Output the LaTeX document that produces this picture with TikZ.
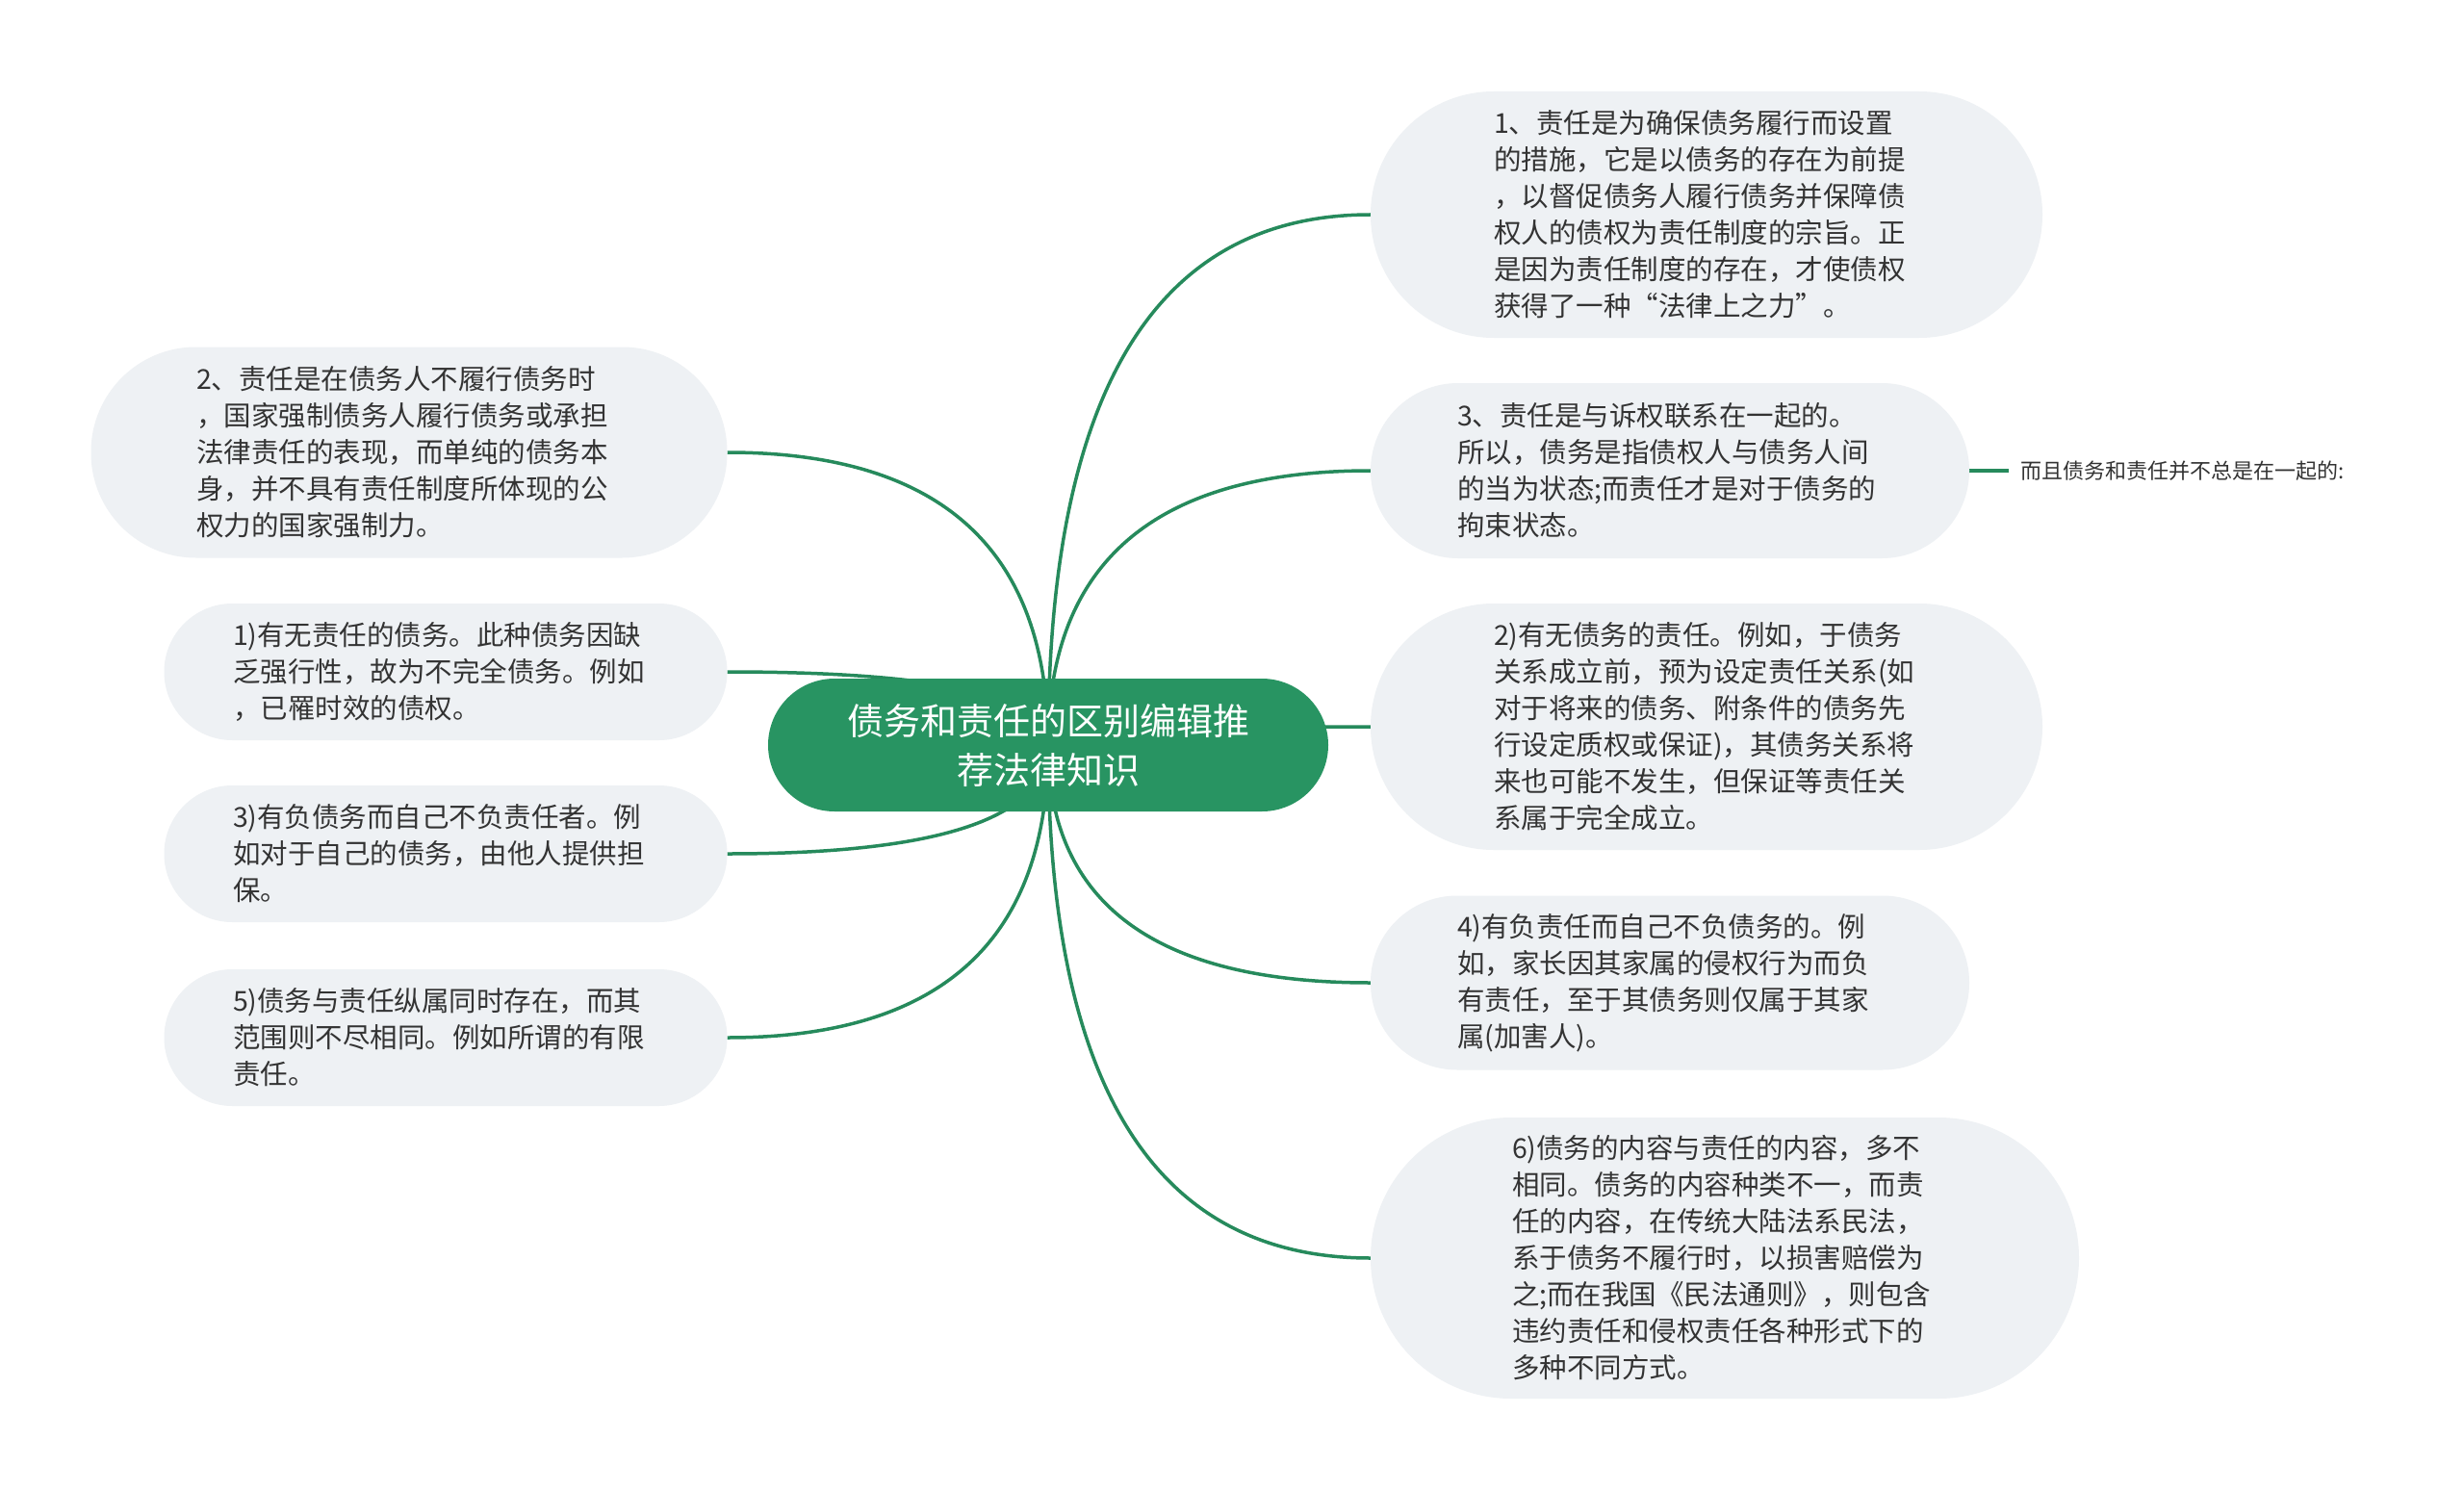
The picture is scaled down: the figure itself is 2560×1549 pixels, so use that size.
\documentclass[tikz,border=0pt]{standalone}
\usepackage{fontspec}
\setmainfont{Noto Sans CJK SC}
\usetikzlibrary{calc}
\definecolor{mmgreen}{RGB}{40,148,98}
\definecolor{mmline}{RGB}{38,138,92}
\definecolor{leaffill}{RGB}{238,241,244}
\definecolor{txt}{RGB}{51,51,51}
\pgfdeclarelayer{back}
\pgfdeclarelayer{lines}
\pgfsetlayers{back,lines,main}
\newcommand\rconn[2]{\draw[conn] (#1.center) .. controls ($(#1.center)!0.667!(#1.center|-#2.west)$) and ($(#2.west)!0.667!(#1.center|-#2.west)$) .. (#2.west);}
\newcommand\lconn[2]{\draw[conn] (#1.center) .. controls ($(#1.center)!0.667!(#1.center|-#2.east)$) and ($(#2.east)!0.667!(#1.center|-#2.east)$) .. (#2.east);}
\begin{document}
\begin{tikzpicture}[x=1pt,y=-1pt,
  leaf/.style={fill=leaffill, draw=none, text=txt, align=left, text width=442pt, inner sep=0pt,
    font=\fontsize{28.5pt}{38pt}\selectfont},
  root/.style={fill=mmgreen, draw=none, text=white, align=center, inner sep=0pt,
    minimum width=582pt, minimum height=138pt, rounded corners=69pt,
    font=\fontsize{38pt}{51pt}\selectfont},
  small/.style={text=txt, anchor=west, inner xsep=12pt, inner ysep=2pt, font=\fontsize{22pt}{27pt}\selectfont},
  conn/.style={draw=mmline, line width=3.5pt}]
\begin{pgfonlayer}{back}
\fill[white] (0,0) rectangle (2560,1549);
\end{pgfonlayer}
\useasboundingbox (0,0) rectangle (2560,1549);

\node[root] (c) at (1089,774) {债务和责任的区别编辑推\\荐法律知识};

\node[leaf, minimum width=698pt, minimum height=256pt, rounded corners=128pt] (r1) at (1773,223)
{1、责任是为确保债务履行而设置\\的措施，它是以债务的存在为前提\\，以督促债务人履行债务并保障债\\权人的债权为责任制度的宗旨。正\\是因为责任制度的存在，才使债权\\获得了一种“法律上之力”。};

\node[leaf, minimum width=622pt, minimum height=182pt, rounded corners=91pt] (r2) at (1735,489)
{3、责任是与诉权联系在一起的。\\所以，债务是指债权人与债务人间\\的当为状态;而责任才是对于债务的\\拘束状态。};

\node[small] (r2a) at (2087,489) {而且债务和责任并不总是在一起的:};

\node[leaf, minimum width=698pt, minimum height=256pt, rounded corners=128pt] (r3) at (1773,755)
{2)有无债务的责任。例如，于债务\\关系成立前，预为设定责任关系(如\\对于将来的债务、附条件的债务先\\行设定质权或保证)，其债务关系将\\来也可能不发生，但保证等责任关\\系属于完全成立。};

\node[leaf, minimum width=622pt, minimum height=181pt, rounded corners=90pt] (r4) at (1735,1021)
{4)有负责任而自己不负债务的。例\\如，家长因其家属的侵权行为而负\\有责任，至于其债务则仅属于其家\\属(加害人)。};

\node[leaf, minimum width=736pt, minimum height=292pt, rounded corners=146pt] (r5) at (1792,1307)
{6)债务的内容与责任的内容，多不\\相同。债务的内容种类不一，而责\\任的内容，在传统大陆法系民法，\\系于债务不履行时，以损害赔偿为\\之;而在我国《民法通则》，则包含\\违约责任和侵权责任各种形式下的\\多种不同方式。};

\node[leaf, minimum width=661pt, minimum height=219pt, rounded corners=109pt] (l1) at (425,470)
{2、责任是在债务人不履行债务时\\，国家强制债务人履行债务或承担\\法律责任的表现，而单纯的债务本\\身，并不具有责任制度所体现的公\\权力的国家强制力。};

\node[leaf, minimum width=585pt, minimum height=142pt, rounded corners=71pt] (l2) at (463,698)
{1)有无责任的债务。此种债务因缺\\乏强行性，故为不完全债务。例如\\，已罹时效的债权。};

\node[leaf, minimum width=585pt, minimum height=142pt, rounded corners=71pt] (l3) at (463,887)
{3)有负债务而自己不负责任者。例\\如对于自己的债务，由他人提供担\\保。};

\node[leaf, minimum width=585pt, minimum height=142pt, rounded corners=71pt] (l4) at (463,1078)
{5)债务与责任纵属同时存在，而其\\范围则不尽相同。例如所谓的有限\\责任。};

\begin{pgfonlayer}{lines}
\rconn{c}{r1}
\rconn{c}{r2}
\rconn{c}{r3}
\rconn{c}{r4}
\rconn{c}{r5}
\lconn{c}{l1}
\lconn{c}{l2}
\lconn{c}{l3}
\lconn{c}{l4}
\draw[conn] (r2.east) -- (r2a.west);
\end{pgfonlayer}
\end{tikzpicture}
\end{document}
